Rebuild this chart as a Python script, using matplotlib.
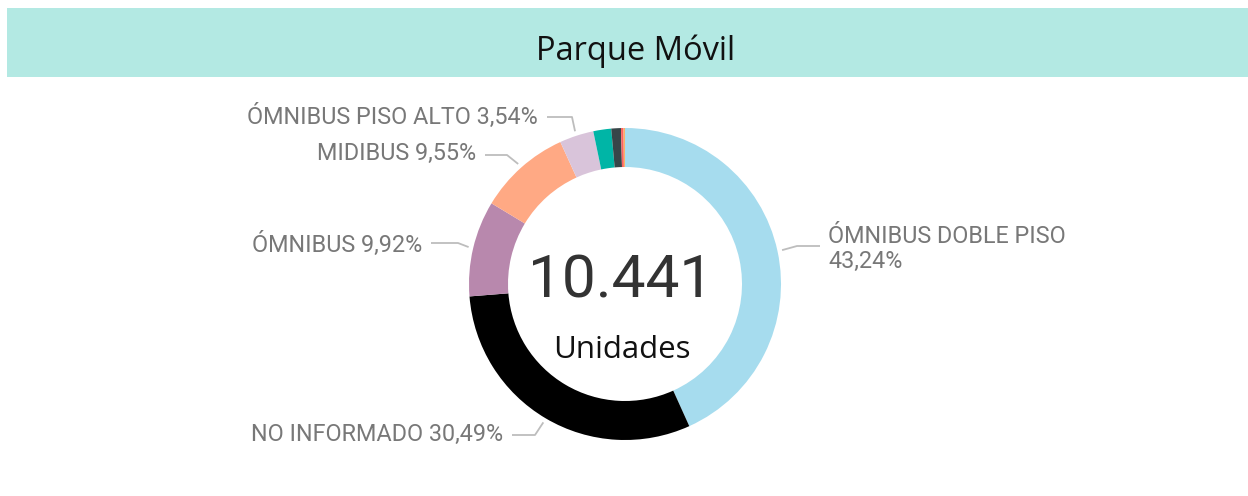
"""Parque Móvil: donut of fleet composition by vehicle type."""

import matplotlib

matplotlib.use("Agg")

import matplotlib.pyplot as plt
import numpy as np
from matplotlib.patches import Rectangle

W, H = 1248, 496

# fleet share by vehicle type (%), clockwise from 12 o'clock
categories = [
    "ÓMNIBUS DOBLE PISO",
    "NO INFORMADO",
    "ÓMNIBUS",
    "MIDIBUS",
    "ÓMNIBUS PISO ALTO",
    "otro_1",
    "otro_2",
    "otro_3",
    "otro_4",
]
shares = [43.24, 30.49, 9.92, 9.55, 3.54, 1.85, 1.00, 0.26, 0.15]
colors = [
    "#a6dcee",
    "#000000",
    "#b888ad",
    "#ffa984",
    "#d9c4da",
    "#00b5a6",
    "#374649",
    "#fd625e",
    "#f7b26a",
]
total_units = "10.441"
units_label = "Unidades"
title = "Parque Móvil"

# label layout in pixels: (category index, text anchor x, baseline y, elbow x, elbow y, side)
label_layout = [
    (0, 828, 243, 797, 246, "right"),
    (1, 503, 441, 535, 435, "left"),
    (2, 422, 252, 458, 243, "left"),
    (3, 476, 160, 507, 155, "left"),
    (4, 538, 124, 572, 117, "left"),
]

CX, CY = 625, 284
R_OUT, R_IN = 156, 117
LABEL_COLOR = "#787878"
LINE_COLOR = "#bdbdbd"
LABEL_FONT = ["Roboto", "DejaVu Sans"]
UI_FONT = ["Open Sans", "DejaVu Sans"]
LABEL_SIZE = 16.8


def Y(y_px: float) -> float:
    return H - y_px


def fmt_pct(v: float) -> str:
    return f"{v:.2f}".replace(".", ",") + "%"


fig = plt.figure(figsize=(W / 100, H / 100), dpi=100)
ax = fig.add_axes([0, 0, 1, 1])
ax.set_xlim(0, W)
ax.set_ylim(0, H)
ax.set_aspect("equal")
ax.axis("off")

# header band
ax.add_patch(Rectangle((7, Y(77)), W - 7, 69, facecolor="#b3e9e3", edgecolor="none"))
ax.text(636, Y(60), title, ha="center", va="baseline", fontsize=23.5,
        color="#111111", family=UI_FONT)

wedges, _ = ax.pie(
    shares,
    colors=colors,
    startangle=90,
    counterclock=False,
    center=(CX, Y(CY)),
    radius=R_OUT,
    wedgeprops=dict(width=R_OUT - R_IN, linewidth=0),
)
ax.set_xlim(0, W)
ax.set_ylim(0, H)

ax.text(621, Y(297), total_units, ha="center", va="baseline", fontsize=43.5,
        color="#333333", family=LABEL_FONT)
ax.text(622, Y(358), units_label, ha="center", va="baseline", fontsize=22.5,
        color="#111111", family=UI_FONT)

for idx, tx, ty, ex, ey, side in label_layout:
    w = wedges[idx]
    mid = np.deg2rad((w.theta1 + w.theta2) / 2)
    ax_x = CX + R_OUT * 1.03 * np.cos(mid)
    ax_y = Y(CY) + R_OUT * 1.03 * np.sin(mid)
    if side == "left":
        hx = tx + 9
        label = f"{categories[idx]} {fmt_pct(shares[idx])}"
        ax.text(tx, Y(ty), label, ha="right", va="baseline", fontsize=LABEL_SIZE,
                color=LABEL_COLOR, family=LABEL_FONT)
    else:
        hx = tx - 8
        ax.text(tx, Y(ty), categories[idx], ha="left", va="baseline",
                fontsize=LABEL_SIZE, color=LABEL_COLOR, family=LABEL_FONT)
        ax.text(tx, Y(ty + 25), fmt_pct(shares[idx]), ha="left", va="baseline",
                fontsize=LABEL_SIZE, color=LABEL_COLOR, family=LABEL_FONT)
    ax.plot([ax_x, ex, hx], [ax_y, Y(ey), Y(ey)], color=LINE_COLOR, lw=1.3,
            solid_capstyle="butt")

fig.savefig("out.png", dpi=100, facecolor="white")
plt.close(fig)
